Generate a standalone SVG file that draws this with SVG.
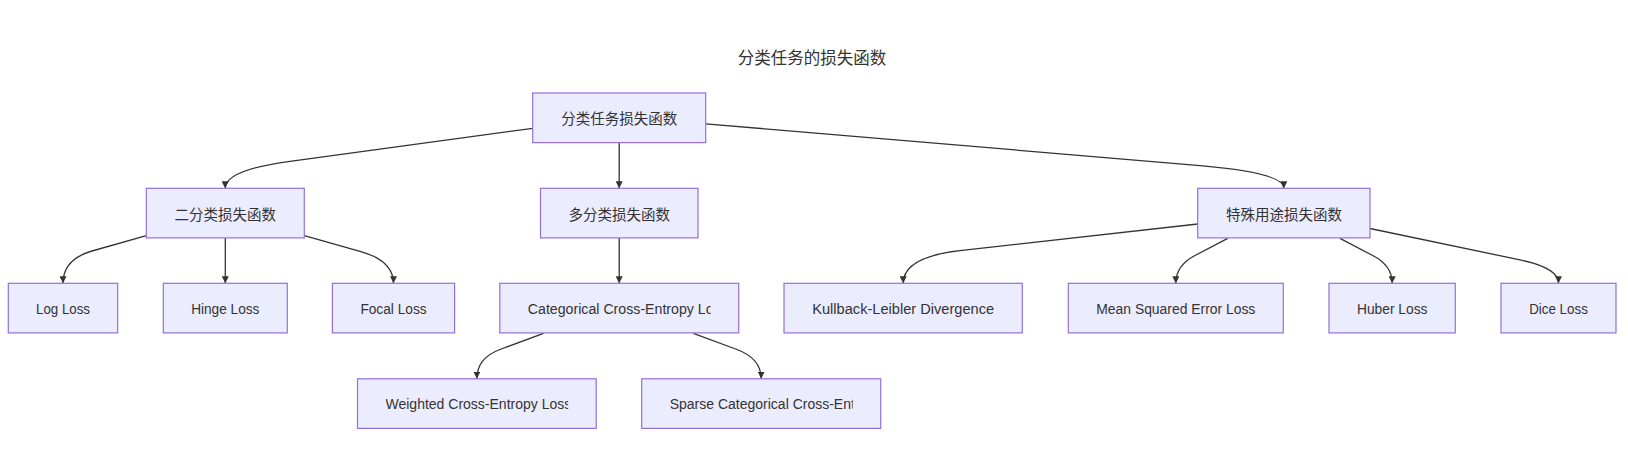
<svg xmlns="http://www.w3.org/2000/svg" width="1628" height="450" viewBox="0 0 1628 450">
<style>
.node rect{fill:#ECECFF;stroke:#9370DB;stroke-width:1.2px;}
.cjk{font-family:"Noto Sans CJK SC","Liberation Sans",sans-serif;font-size:14.5px;fill:#333333;text-anchor:middle;dominant-baseline:central;}
.lat{font-family:"Liberation Sans",Arial,sans-serif;font-size:14px;fill:#333333;text-anchor:middle;}
.clip{text-anchor:start;}
.edges path{fill:none;stroke:#333333;stroke-width:1.3px;marker-end:url(#arrow);}
.title{font-family:"Noto Sans CJK SC","Liberation Sans",sans-serif;font-size:16.5px;fill:#333333;text-anchor:middle;dominant-baseline:central;}
</style>
<defs>
<marker id="arrow" viewBox="0 0 10 10" refX="10" refY="5" markerWidth="7" markerHeight="7" markerUnits="userSpaceOnUse" orient="auto">
<path d="M0,0 L10,5 L0,10 z" fill="#333333"/>
</marker>
<clipPath id="clipCat"><rect x="527.8" y="283" width="182.9" height="50"/></clipPath>
<clipPath id="clipW"><rect x="385.5" y="378.5" width="182.7" height="50"/></clipPath>
<clipPath id="clipS"><rect x="669.7" y="378.5" width="183" height="50"/></clipPath>
</defs>
<rect x="0" y="0" width="1628" height="450" fill="#ffffff"/>
<text class="title" x="812" y="57">分类任务的损失函数</text>
<g class="edges" id="edges">
<path d="M532.6,128.3 L290,161.3 Q225.2,170 225.2,188.3"/>
<path d="M619.2,142.7 L619.2,188.3"/>
<path d="M705.7,123.8 L1200,165.6 Q1283.9,172.7 1283.9,188.3"/>
<path d="M146.3,235.7 L92,251 Q63,259.5 63,283.3"/>
<path d="M225.3,237.9 L225.3,283.3"/>
<path d="M304.3,235.7 L360,251.3 Q393.5,260.7 393.5,283.3"/>
<path d="M619.2,237.9 L619.2,283.3"/>
<path d="M543.5,333.3 L500,349.5 Q476.9,358 476.9,378.7"/>
<path d="M693.3,333.3 L737,349.5 Q761.2,358.5 761.2,378.7"/>
<path d="M1197.7,224 L960,250.7 Q903.2,257.1 903.2,283.3"/>
<path d="M1227.7,238.3 L1195,255.5 Q1175.8,265.5 1175.8,283.3"/>
<path d="M1340,238.3 L1372.7,255.5 Q1392.2,265.5 1392.2,283.3"/>
<path d="M1370,228.5 L1520,259.9 Q1558.5,267.9 1558.5,283.3"/>
</g>
<g class="node" id="root"><rect x="532.7" y="93" width="173" height="49.6"/><text class="cjk" x="619.2" y="117.8">分类任务损失函数</text></g>
<g class="node" id="binary"><rect x="146.3" y="188.3" width="158" height="49.6"/><text class="cjk" x="225.3" y="213.1">二分类损失函数</text></g>
<g class="node" id="multi"><rect x="540.5" y="188.3" width="157.5" height="49.6"/><text class="cjk" x="619.2" y="213.1">多分类损失函数</text></g>
<g class="node" id="special"><rect x="1197.7" y="188.3" width="172.3" height="49.6"/><text class="cjk" x="1283.9" y="213.1">特殊用途损失函数</text></g>
<g class="node" id="logloss"><rect x="8.3" y="283.3" width="109.4" height="49.6"/><text class="lat" x="63" y="313.6" textLength="54" lengthAdjust="spacingAndGlyphs">Log Loss</text></g>
<g class="node" id="hinge"><rect x="163.3" y="283.3" width="124" height="49.6"/><text class="lat" x="225.3" y="313.6" textLength="68.3" lengthAdjust="spacingAndGlyphs">Hinge Loss</text></g>
<g class="node" id="focal"><rect x="332.4" y="283.3" width="122.2" height="49.6"/><text class="lat" x="393.5" y="313.6" textLength="66.2" lengthAdjust="spacingAndGlyphs">Focal Loss</text></g>
<g class="node" id="cce"><rect x="499.8" y="283.3" width="238.9" height="49.6"/><text class="lat clip" x="527.8" y="313.6" textLength="200" lengthAdjust="spacingAndGlyphs" clip-path="url(#clipCat)">Categorical Cross-Entropy Loss</text></g>
<g class="node" id="kl"><rect x="784" y="283.3" width="238.3" height="49.6"/><text class="lat" x="903.2" y="313.6" textLength="182" lengthAdjust="spacingAndGlyphs">Kullback-Leibler Divergence</text></g>
<g class="node" id="mse"><rect x="1068.3" y="283.3" width="215" height="49.6"/><text class="lat" x="1175.8" y="313.6" textLength="159" lengthAdjust="spacingAndGlyphs">Mean Squared Error Loss</text></g>
<g class="node" id="huber"><rect x="1329" y="283.3" width="126.3" height="49.6"/><text class="lat" x="1392.2" y="313.6" textLength="70.4" lengthAdjust="spacingAndGlyphs">Huber Loss</text></g>
<g class="node" id="dice"><rect x="1501" y="283.3" width="115" height="49.6"/><text class="lat" x="1558.5" y="313.6" textLength="58.7" lengthAdjust="spacingAndGlyphs">Dice Loss</text></g>
<g class="node" id="weighted"><rect x="357.5" y="378.8" width="238.7" height="49.6"/><text class="lat clip" x="385.5" y="409.1" clip-path="url(#clipW)">Weighted Cross-Entropy Loss</text></g>
<g class="node" id="sparse"><rect x="641.7" y="378.8" width="239" height="49.6"/><text class="lat clip" x="669.7" y="409.1" clip-path="url(#clipS)">Sparse Categorical Cross-Entropy Loss</text></g>
</svg>
